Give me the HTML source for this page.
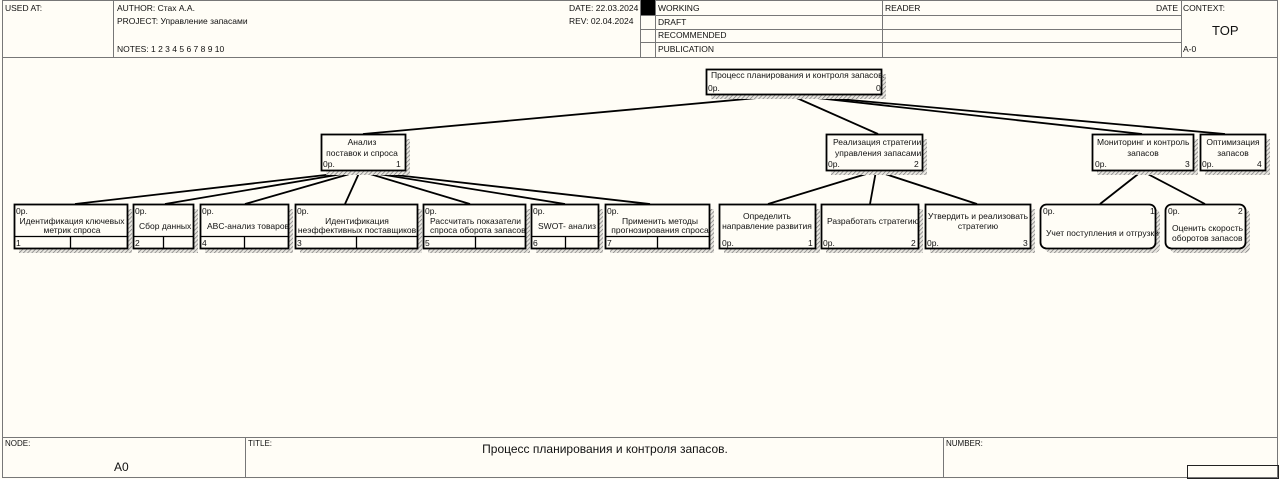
<!DOCTYPE html><html><head><meta charset="utf-8"><style>
html,body{margin:0;padding:0;background:#fffdf6;}
svg{display:block;font-family:"Liberation Sans",sans-serif;}
text{font-size:8.5px;fill:#111;}
</style></head><body>
<svg width="1280" height="479" viewBox="0 0 1280 479" xmlns="http://www.w3.org/2000/svg">
<defs>
<pattern id="h" width="3" height="3" patternUnits="userSpaceOnUse" patternTransform="rotate(45)">
<rect width="3" height="3" fill="#e8e6e0"/><line x1="0" y1="0" x2="0" y2="3" stroke="#777" stroke-width="1.4"/></pattern>
<clipPath id="c"><rect x="0" y="0" width="1280" height="479"/></clipPath>
</defs>
<rect width="1280" height="479" fill="#fffdf6"/>
<!-- header -->
<g stroke="#777" fill="none" stroke-width="1">
<rect x="2.5" y="0.5" width="1275" height="477"/>
<line x1="2" y1="57.5" x2="1278" y2="57.5"/>
<line x1="113.5" y1="0" x2="113.5" y2="57"/>
<line x1="640.5" y1="0" x2="640.5" y2="57"/>
<line x1="655.5" y1="0" x2="655.5" y2="57"/>
<line x1="882.5" y1="0" x2="882.5" y2="57"/>
<line x1="1181.5" y1="0" x2="1181.5" y2="57"/>
<line x1="640" y1="15.5" x2="1181" y2="15.5"/>
<line x1="640" y1="29.5" x2="1181" y2="29.5"/>
<line x1="640" y1="42.5" x2="1181" y2="42.5"/>
<line x1="2" y1="437.5" x2="1278" y2="437.5"/>
<line x1="245.5" y1="437" x2="245.5" y2="478"/>
<line x1="943.5" y1="437" x2="943.5" y2="478"/>
</g>
<rect x="1187.5" y="465.5" width="91" height="13" fill="none" stroke="#222"/>
<rect x="641" y="0" width="14" height="15" fill="#000"/>
<text x="5" y="11">USED AT:</text>
<text x="117" y="11">AUTHOR:  Стах А.А.</text>
<text x="117" y="24">PROJECT:   Управление запасами</text>
<text x="117" y="52">NOTES:  1  2  3  4  5  6  7  8  9  10</text>
<text x="569" y="11">DATE: 22.03.2024</text>
<text x="569" y="24">REV:  02.04.2024</text>
<text x="658" y="11">WORKING</text>
<text x="658" y="25">DRAFT</text>
<text x="658" y="38">RECOMMENDED</text>
<text x="658" y="52">PUBLICATION</text>
<text x="885" y="11">READER</text>
<text x="1156" y="11">DATE</text>
<text x="1183" y="11">CONTEXT:</text>
<text x="1212" y="35" style="font-size:13px">TOP</text>
<text x="1183" y="52">A-0</text>
<text x="5" y="446" style="font-size:8px">NODE:</text>
<text x="248" y="446" style="font-size:8px">TITLE:</text>
<text x="946" y="446" style="font-size:8px">NUMBER:</text>
<text x="114" y="471" style="font-size:12px">A0</text>
<text x="605" y="453" text-anchor="middle" style="font-size:12px">Процесс планирования и контроля запасов.</text>
<!-- connectors -->
<g stroke="#000" stroke-width="1.8" fill="none">
<line x1="790" y1="95" x2="363" y2="134"/>
<line x1="790" y1="95" x2="878" y2="134"/>
<line x1="790" y1="95" x2="1142" y2="134"/>
<line x1="795" y1="95" x2="1225" y2="134"/>
<line x1="360" y1="171" x2="75" y2="204"/>
<line x1="360" y1="171" x2="165" y2="204"/>
<line x1="360" y1="171" x2="245" y2="204"/>
<line x1="360" y1="171" x2="345" y2="204"/>
<line x1="360" y1="171" x2="470" y2="204"/>
<line x1="360" y1="171" x2="565" y2="204"/>
<line x1="360" y1="171" x2="650" y2="204"/>
<line x1="876" y1="171" x2="768" y2="204"/>
<line x1="876" y1="171" x2="870" y2="204"/>
<line x1="876" y1="171" x2="977" y2="204"/>
<line x1="1142" y1="171" x2="1100" y2="204"/>
<line x1="1142" y1="171" x2="1205" y2="204"/>
</g>
<!-- boxes: shadow then box -->
<g>
<!-- top -->
<rect x="711" y="74" width="175" height="25" fill="url(#h)"/>
<rect x="706.5" y="69.5" width="175" height="25" fill="#fffdf6" stroke="#000" stroke-width="1.8"/>
<text x="711" y="78">Процесс планирования и контроля запасов.</text>
<text x="708" y="91">0р.</text><text x="876" y="91">0</text>
<!-- level1 -->
<rect x="326" y="139" width="84" height="36" fill="url(#h)"/>
<rect x="321.5" y="134.5" width="84" height="36" fill="#fffdf6" stroke="#000" stroke-width="1.8"/>
<text x="362" y="145" text-anchor="middle">Анализ</text><text x="362" y="156" text-anchor="middle">поставок и спроса</text>
<text x="323" y="167">0р.</text><text x="396" y="167">1</text>
<rect x="831" y="139" width="96" height="36" fill="url(#h)"/>
<rect x="826.5" y="134.5" width="96" height="36" fill="#fffdf6" stroke="#000" stroke-width="1.8"/>
<text x="833" y="145">Реализация стратегии</text><text x="835" y="156">управления запасами</text>
<text x="828" y="167">0р.</text><text x="914" y="167">2</text>
<rect x="1097" y="139" width="101" height="36" fill="url(#h)"/>
<rect x="1092.5" y="134.5" width="101" height="36" fill="#fffdf6" stroke="#000" stroke-width="1.8"/>
<text x="1097" y="145">Мониторинг и контроль</text><text x="1143" y="156" text-anchor="middle">запасов</text>
<text x="1095" y="167">0р.</text><text x="1185" y="167">3</text>
<rect x="1205" y="139" width="65" height="36" fill="url(#h)"/>
<rect x="1200.5" y="134.5" width="65" height="36" fill="#fffdf6" stroke="#000" stroke-width="1.8"/>
<text x="1233" y="145" text-anchor="middle">Оптимизация</text><text x="1233" y="156" text-anchor="middle">запасов</text>
<text x="1202" y="167">0р.</text><text x="1257" y="167">4</text>
</g>
<!-- level2 under 1 -->
<g>
<rect x="19" y="209" width="113" height="44" fill="url(#h)"/><rect x="138" y="209" width="60" height="44" fill="url(#h)"/>
<rect x="205" y="209" width="88" height="44" fill="url(#h)"/><rect x="300" y="209" width="122" height="44" fill="url(#h)"/>
<rect x="428" y="209" width="102" height="44" fill="url(#h)"/><rect x="536" y="209" width="67" height="44" fill="url(#h)"/>
<rect x="610" y="209" width="104" height="44" fill="url(#h)"/>
<rect x="724" y="209" width="96" height="44" fill="url(#h)"/><rect x="826" y="209" width="97" height="44" fill="url(#h)"/>
<rect x="930" y="209" width="105" height="44" fill="url(#h)"/>
<rect x="1045" y="209" width="115" height="44" rx="6" fill="url(#h)"/><rect x="1170" y="209" width="80" height="44" rx="6" fill="url(#h)"/>
</g>
<g fill="#fffdf6" stroke="#000" stroke-width="1.8">
<rect x="14.5" y="204.5" width="113" height="44"/><rect x="133.5" y="204.5" width="60" height="44"/>
<rect x="200.5" y="204.5" width="88" height="44"/><rect x="295.5" y="204.5" width="122" height="44"/>
<rect x="423.5" y="204.5" width="102" height="44"/><rect x="531.5" y="204.5" width="67" height="44"/>
<rect x="605.5" y="204.5" width="104" height="44"/>
<rect x="719.5" y="204.5" width="96" height="44"/><rect x="821.5" y="204.5" width="97" height="44"/>
<rect x="925.5" y="204.5" width="105" height="44"/>
<rect x="1040.5" y="204.5" width="115" height="44" rx="6"/><rect x="1165.5" y="204.5" width="80" height="44" rx="6"/>
</g>
<g stroke="#000" stroke-width="1.3">
<line x1="14" y1="236.5" x2="127" y2="236.5"/><line x1="70.5" y1="236" x2="70.5" y2="248"/>
<line x1="133" y1="236.5" x2="193" y2="236.5"/><line x1="163.5" y1="236" x2="163.5" y2="248"/>
<line x1="200" y1="236.5" x2="288" y2="236.5"/><line x1="244.5" y1="236" x2="244.5" y2="248"/>
<line x1="295" y1="236.5" x2="417" y2="236.5"/><line x1="356.5" y1="236" x2="356.5" y2="248"/>
<line x1="423" y1="236.5" x2="525" y2="236.5"/><line x1="475.5" y1="236" x2="475.5" y2="248"/>
<line x1="531" y1="236.5" x2="598" y2="236.5"/><line x1="565.5" y1="236" x2="565.5" y2="248"/>
<line x1="605" y1="236.5" x2="709" y2="236.5"/><line x1="657.5" y1="236" x2="657.5" y2="248"/>
</g>
<g>
<text x="16" y="214">0р.</text><text x="72" y="224" text-anchor="middle">Идентификация ключевых</text><text x="72" y="233" text-anchor="middle">метрик спроса</text><text x="16" y="246">1</text>
<text x="135" y="214">0р.</text><text x="139" y="229">Сбор данных</text><text x="135" y="246">2</text>
<text x="202" y="214">0р.</text><text x="207" y="229">ABC-анализ товаров</text><text x="202" y="246">4</text>
<text x="297" y="214">0р.</text><text x="357" y="224" text-anchor="middle">Идентификация</text><text x="357" y="233" text-anchor="middle">неэффективных поставщиков</text><text x="297" y="246">3</text>
<text x="425" y="214">0р.</text><text x="430" y="224">Рассчитать показатели</text><text x="430" y="233">спроса оборота запасов</text><text x="425" y="246">5</text>
<text x="533" y="214">0р.</text><text x="538" y="229">SWOT- анализ</text><text x="533" y="246">6</text>
<text x="607" y="214">0р.</text><text x="660" y="224" text-anchor="middle">Применить методы</text><text x="660" y="233" text-anchor="middle">прогнозирования спроса</text><text x="607" y="246">7</text>
<text x="767" y="219" text-anchor="middle">Определить</text><text x="767" y="229" text-anchor="middle">направление развития</text><text x="722" y="246">0р.</text><text x="808" y="246">1</text>
<text x="827" y="224">Разработать стратегию</text><text x="823" y="246">0р.</text><text x="911" y="246">2</text>
<text x="978" y="219" text-anchor="middle">Утвердить и реализовать</text><text x="978" y="229" text-anchor="middle">стратегию</text><text x="927" y="246">0р.</text><text x="1023" y="246">3</text>
<text x="1043" y="214">0р.</text><text x="1150" y="214">1</text><text x="1046" y="236">Учет поступления и отгрузки</text>
<text x="1168" y="214">0р.</text><text x="1238" y="214">2</text><text x="1172" y="231">Оценить скорость</text><text x="1172" y="241">оборотов запасов</text>
</g>
</svg>
</body></html>
